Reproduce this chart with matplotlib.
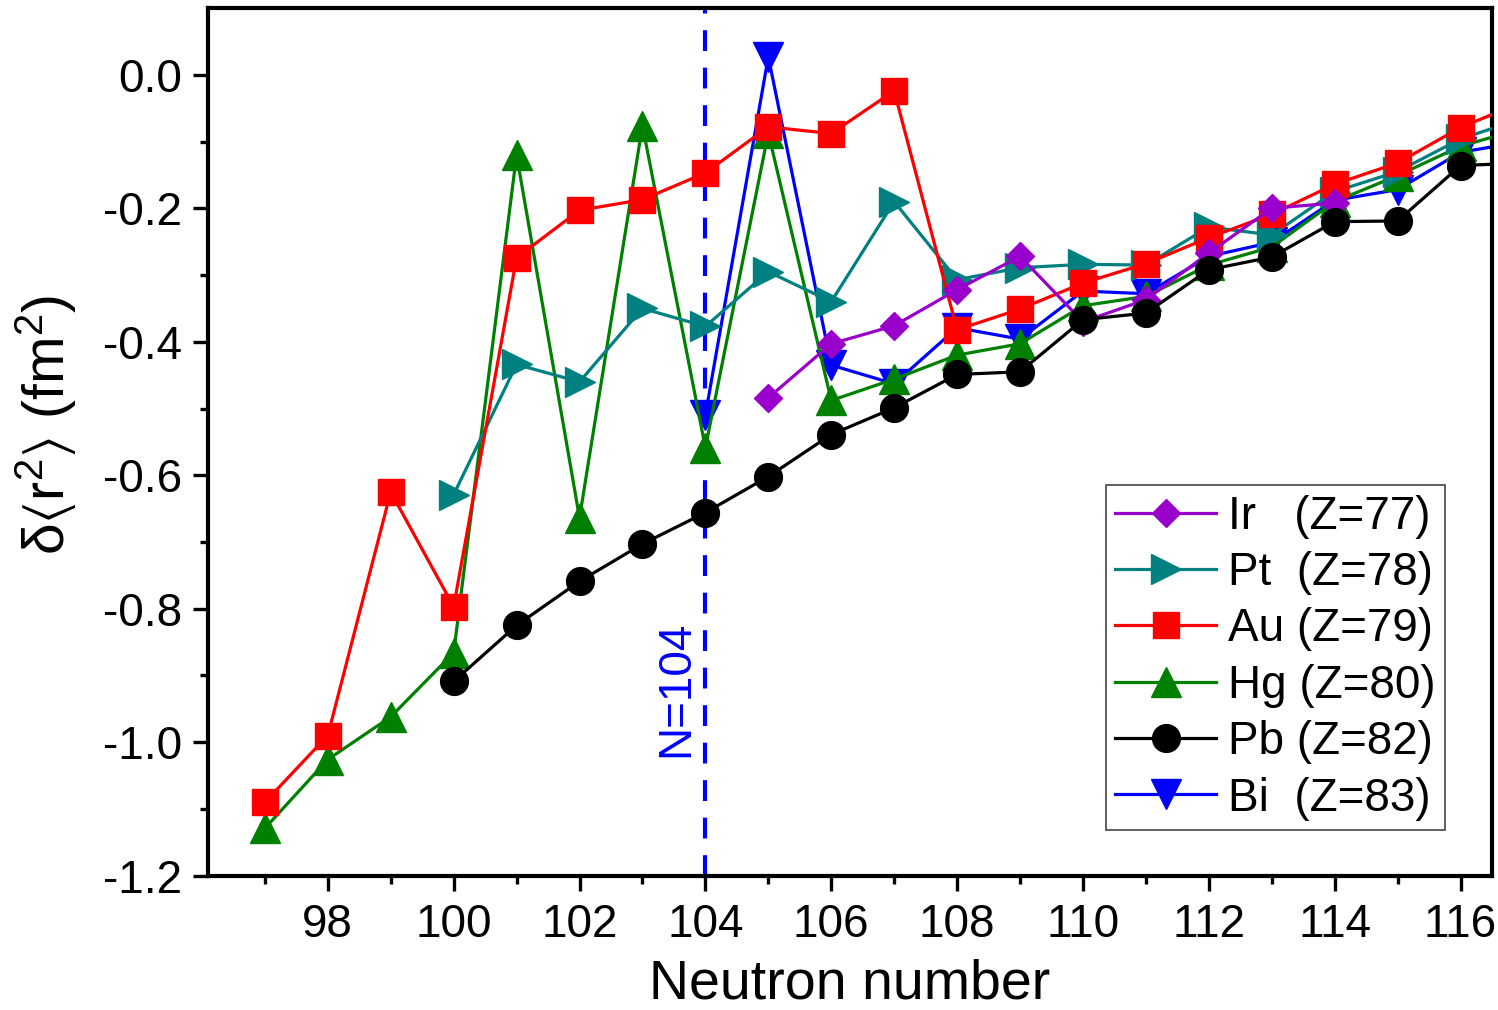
import matplotlib
matplotlib.use('Agg')
import matplotlib.pyplot as plt

plt.rcParams['font.family'] = ['Liberation Sans', 'DejaVu Sans']
plt.rcParams['mathtext.fontset'] = 'custom'
plt.rcParams['mathtext.rm'] = 'Liberation Sans'
plt.rcParams['mathtext.it'] = 'Liberation Sans:italic'
plt.rcParams['mathtext.default'] = 'regular'
plt.rcParams['mathtext.fallback'] = 'stixsans'

# ---- data ----
N_Ir = [105, 106, 107, 108, 109, 110, 111, 112, 113, 114]
dr2_Ir = [-0.484, -0.403, -0.376, -0.322, -0.272, -0.370, -0.337, -0.267, -0.200, -0.192]

N_Pt = list(range(100, 118))
dr2_Pt = [-0.629, -0.434, -0.460, -0.350, -0.377, -0.295, -0.340, -0.190, -0.307,
          -0.289, -0.284, -0.285, -0.228, -0.240, -0.175, -0.145, -0.096, -0.065]

N_Au = list(range(97, 118))
dr2_Au = [-1.090, -0.990, -0.625, -0.797, -0.274, -0.203, -0.187, -0.147, -0.078,
          -0.088, -0.024, -0.382, -0.351, -0.312, -0.283, -0.244, -0.209, -0.164,
          -0.132, -0.079, -0.040]

N_Hg = list(range(97, 118))
dr2_Hg = [-1.129, -1.026, -0.962, -0.866, -0.120, -0.664, -0.076, -0.559, -0.087,
          -0.488, -0.456, -0.420, -0.403, -0.346, -0.332, -0.285, -0.258, -0.190,
          -0.151, -0.107, -0.080]

N_Pb = list(range(100, 118))
dr2_Pb = [-0.909, -0.825, -0.759, -0.703, -0.656, -0.602, -0.539, -0.499, -0.449,
          -0.445, -0.367, -0.357, -0.292, -0.273, -0.220, -0.219, -0.136, -0.132]

N_Bi = list(range(104, 118))
dr2_Bi = [-0.510, 0.027, -0.435, -0.463, -0.379, -0.396, -0.324, -0.328, -0.272,
          -0.251, -0.188, -0.172, -0.116, -0.100]

labels = ['Ir   (Z=77)', 'Pt  (Z=78)', 'Au (Z=79)', 'Hg (Z=80)', 'Pb (Z=82)', 'Bi  (Z=83)']
x_major_ticks = [98, 100, 102, 104, 106, 108, 110, 112, 114, 116]
x_minor_ticks = [97, 99, 101, 103, 105, 107, 109, 111, 113, 115]
y_major_ticks = [-1.2, -1.0, -0.8, -0.6, -0.4, -0.2, 0.0]
y_minor_ticks = [-1.1, -0.9, -0.7, -0.5, -0.3, -0.1]
N_magic = 104

fig = plt.figure(figsize=(14.98, 10.10), dpi=100)
ax = fig.add_axes([0.139, 0.133, 0.857, 0.859])

lw = 2.3
h_Ir, = ax.plot(N_Ir, dr2_Ir, color='#9900CC', marker='D', ms=14.5, lw=lw, zorder=6)
h_Pt, = ax.plot(N_Pt, dr2_Pt, color='#008080', marker='>', ms=21, lw=lw, zorder=4)
h_Au, = ax.plot(N_Au, dr2_Au, color='#FF0000', marker='s', ms=18.5, lw=lw, zorder=5)
h_Hg, = ax.plot(N_Hg, dr2_Hg, color='#008000', marker='^', ms=21, lw=lw, zorder=3)
h_Pb, = ax.plot(N_Pb, dr2_Pb, color='black', marker='o', ms=20, lw=lw, zorder=7)
h_Bi, = ax.plot(N_Bi, dr2_Bi, color='#0000FF', marker='v', ms=21, lw=lw, zorder=2)

ax.axvline(N_magic, color='#0000FF', lw=3, dashes=(5, 4), zorder=1)
ax.text(N_magic - 0.47, -0.92, 'N=104', rotation=90, color='#0000FF',
        fontsize=33, ha='center', va='center')

ax.set_xlim(96.1, 116.5)
ax.set_ylim(-1.2, 0.1)
ax.set_xticks(x_major_ticks)
ax.set_xticks(x_minor_ticks, minor=True)
ax.set_yticks(y_major_ticks)
ax.set_yticklabels([f'{v:.1f}' for v in y_major_ticks])
ax.set_yticks(y_minor_ticks, minor=True)

ax.tick_params(axis='both', which='major', direction='out', length=11, width=2.4,
               labelsize=33)
ax.tick_params(axis='both', which='minor', direction='out', length=5.5, width=2.4)
ax.tick_params(axis='x', which='major', pad=9)
ax.tick_params(axis='y', which='major', pad=8)
for s in ax.spines.values():
    s.set_linewidth(3)

ax.set_xlabel('Neutron number', fontsize=40, labelpad=8)
ax.set_ylabel(r'δ$\langle$r$^2$$\rangle$ (fm$^2$)', fontsize=41, labelpad=12)
ax.yaxis.set_label_coords(-0.101, 0.52)

leg = ax.legend([h_Ir, h_Pt, h_Au, h_Hg, h_Pb, h_Bi], labels,
                loc='lower right', bbox_to_anchor=(0.963, 0.053), borderaxespad=0,
                fontsize=33, handlelength=2.2, handletextpad=0.25,
                borderpad=0.2, labelspacing=0.27, fancybox=False,
                edgecolor='#444444', framealpha=1)
leg.get_frame().set_linewidth(1.2)

fig.savefig('out.png', dpi=100)
